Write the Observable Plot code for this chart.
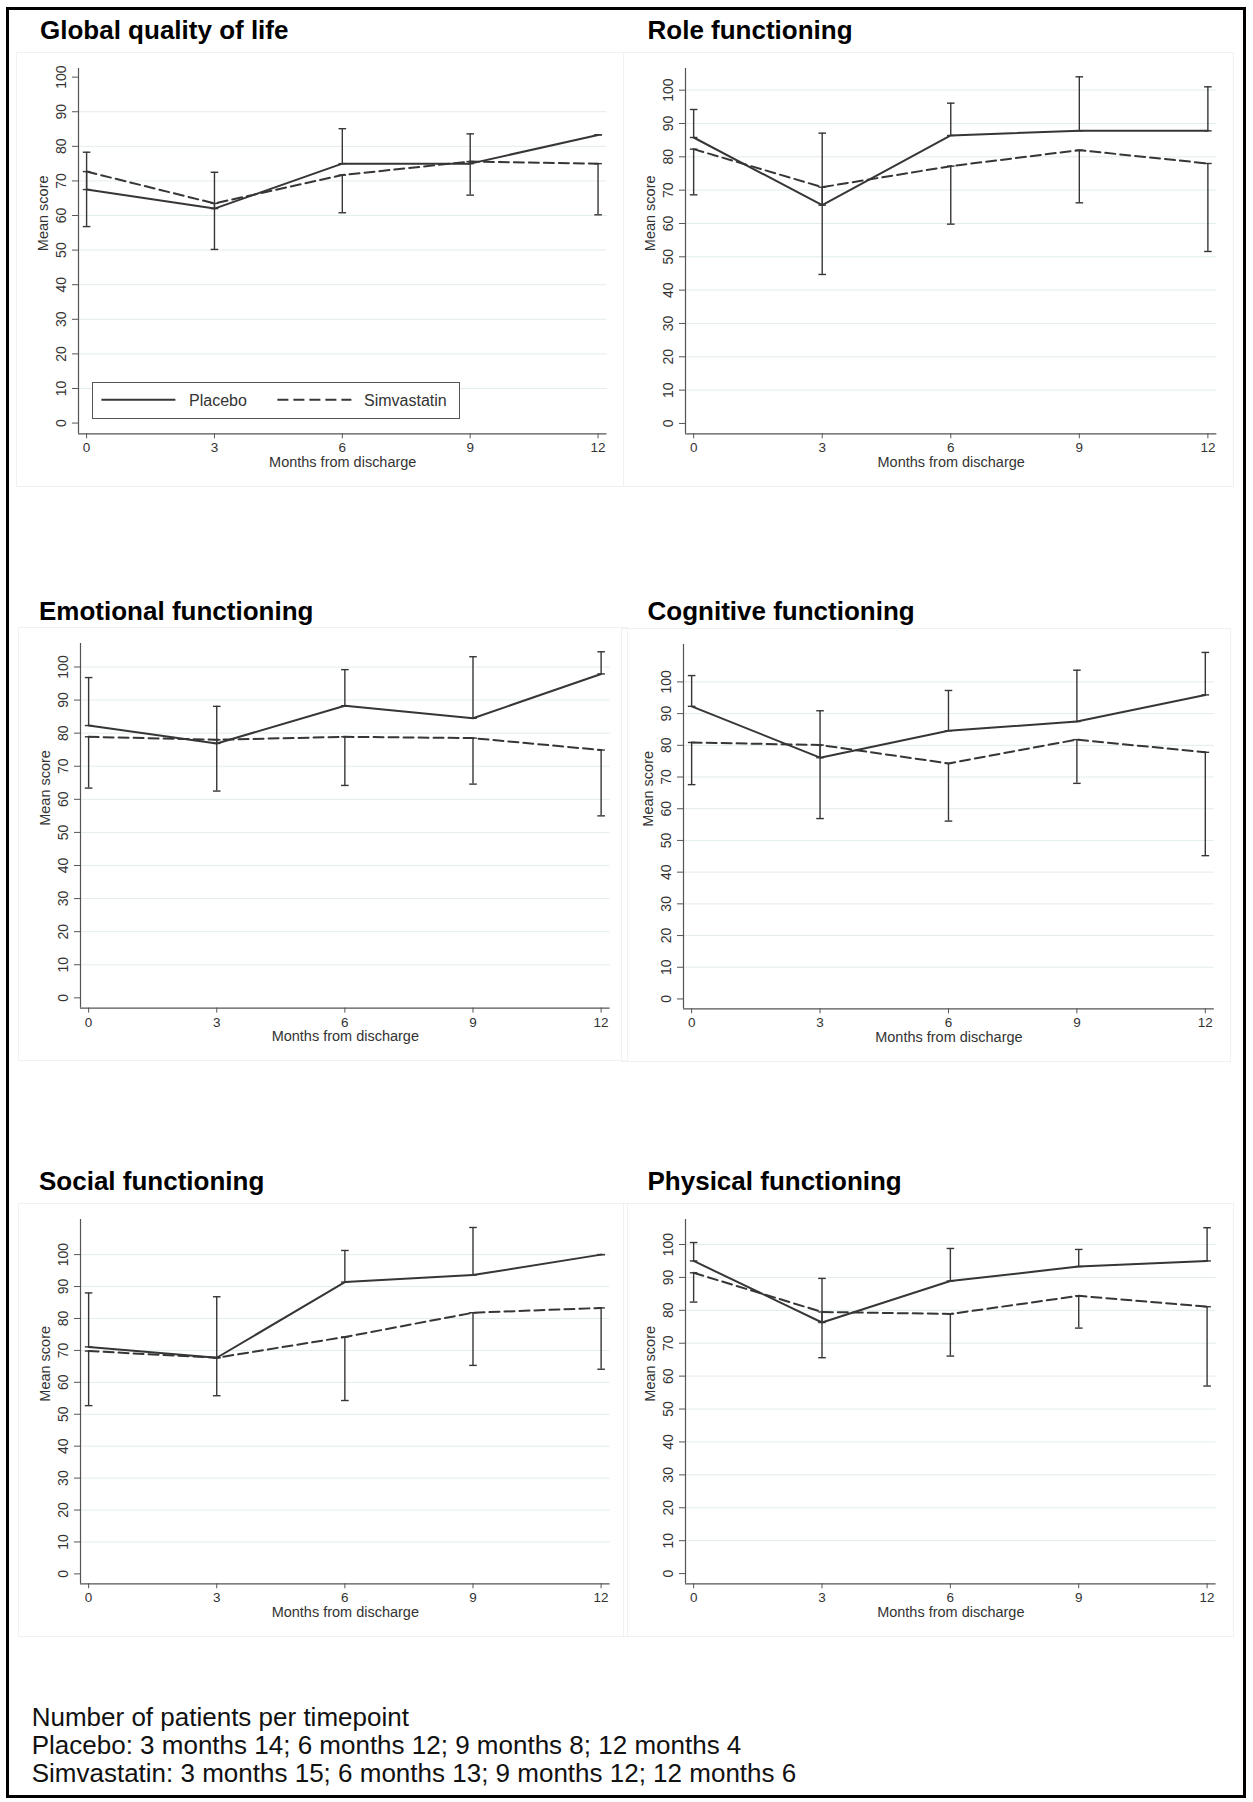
<!DOCTYPE html>
<html>
<head>
<meta charset="utf-8">
<script src="https://cdn.jsdelivr.net/npm/d3@7"></script>
<script src="https://cdn.jsdelivr.net/npm/@observablehq/plot@0.6"></script>
<style>
  body { margin: 0; background: #fff; }
  #page { position: relative; width: 1253px; height: 1802px; overflow: hidden;
          font-family: "Liberation Sans", Arial, Helvetica, sans-serif; background: #fff; }
  .frame { position: absolute; left: 6px; top: 7px; width: 1240px; height: 1791px;
           border: 3px solid #000; box-sizing: border-box; }
  .box { position: absolute; border: 1px solid #f0f2f2; box-sizing: border-box; }
  .title { position: absolute; font-weight: bold; font-size: 26px; line-height: 26px;
           color: #000; white-space: nowrap; }
  .panel { position: absolute; }
  .panel svg { display: block; overflow: visible; }
  #note { position: absolute; left: 31.7px; top: 1703px; font-size: 26px; line-height: 28px;
          color: #111; white-space: nowrap; }
  #legend { position: absolute; left: 92.3px; top: 381.7px; width: 367.7px; height: 37.6px;
            border: 1.5px solid #555; box-sizing: border-box; background: #fff; }
  #legend svg { position: absolute; left: -1.5px; top: -1.5px; overflow: visible; }
</style>
</head>
<body>
<div id="page"><div class="frame"></div></div>
<script>
// EORTC QLQ-C30 domains: mean score by months from discharge, placebo vs simvastatin
const months = [0, 3, 6, 9, 12];
const domains = [
  "Global quality of life", "Role functioning",
  "Emotional functioning", "Cognitive functioning",
  "Social functioning", "Physical functioning"
];
// placebo: mean and upper error-bar end
const placeboMean = [
  [67.5, 62.0, 75.0, 75.0, 83.3],
  [85.8, 65.5, 86.4, 87.8, 87.8],
  [82.3, 76.9, 88.3, 84.5, 97.9],
  [92.3, 76.1, 84.6, 87.5, 95.9],
  [71.1, 67.7, 91.4, 93.6, 100.0],
  [95.0, 76.3, 88.9, 93.3, 95.0]
];
const placeboUpper = [
  [78.3, 72.5, 85.1, 83.6, 83.3],
  [94.2, 87.1, 96.1, 104.0, 101.0],
  [96.8, 88.1, 99.2, 103.1, 104.6],
  [102.0, 90.9, 97.3, 103.7, 109.3],
  [88.0, 86.8, 101.3, 108.5, 100.0],
  [100.6, 89.7, 98.8, 98.5, 105.1]
];
// simvastatin: mean and lower error-bar end
const simvaMean = [
  [72.7, 63.5, 71.7, 75.6, 75.0],
  [82.3, 70.9, 77.2, 82.0, 78.0],
  [78.9, 78.0, 78.9, 78.5, 74.9],
  [80.9, 80.1, 74.3, 81.8, 77.8],
  [69.8, 67.7, 74.2, 81.8, 83.3],
  [91.4, 79.5, 78.9, 84.4, 81.1]
];
const simvaLower = [
  [56.8, 50.2, 60.8, 65.9, 60.2],
  [68.6, 44.7, 59.8, 66.2, 51.6],
  [63.4, 62.5, 64.2, 64.6, 55.0],
  [67.6, 56.9, 56.1, 68.0, 45.2],
  [52.7, 55.8, 54.3, 65.3, 64.1],
  [82.5, 65.6, 66.1, 74.6, 57.0]
];
const yTicks = [0, 10, 20, 30, 40, 50, 60, 70, 80, 90, 100];
const followUp = [3, 6, 9, 12];
const nPlacebo = [14, 12, 8, 4];
const nSimva = [15, 13, 12, 6];

// plot-region placement of each panel on the page
const layout = [
  {left: 77.5, right: 606, top: 68, bottom: 433.3, titleX: 40, titleBase: 39.3},
  {left: 684.6, right: 1216, top: 68, bottom: 433.3, titleX: 647.5, titleBase: 39.3},
  {left: 80.4, right: 610, top: 642.7, bottom: 1007.3, titleX: 39, titleBase: 620},
  {left: 682.6, right: 1213.4, top: 644, bottom: 1008.3, titleX: 647.5, titleBase: 620},
  {left: 80.4, right: 610, top: 1219, bottom: 1583.3, titleX: 39, titleBase: 1190},
  {left: 685.4, right: 1216, top: 1219, bottom: 1583.3, titleX: 647.5, titleBase: 1190}
];

const ink = "#363636";
const axisInk = "#555";
const gridInk = "#e3ecee";
const M = {left: 64, right: 12, top: 14, bottom: 52};
const xLo = -0.19, xHi = 12.21, yLo = -3.1;

// short horizontal stroke used as an error-bar cap
const cap = {
  draw(context, size) {
    const r = Math.sqrt(size / Math.PI);
    context.moveTo(-r, 0);
    context.lineTo(r, 0);
  }
};

const page = document.getElementById("page");

domains.forEach((name, i) => {
  const L = layout[i];
  const placebo = months.map((m, j) => ({month: m, mean: placeboMean[i][j], upper: placeboUpper[i][j]}));
  const simva = months.map((m, j) => ({month: m, mean: simvaMean[i][j], lower: simvaLower[i][j]}));
  const top = Math.max(100, d3.max(placeboUpper[i]));
  const grid = yTicks.filter(t => t > 0 && t < top);

  const plotW = L.right - L.left;
  const plotH = L.bottom - L.top;

  // faint graph-region box
  const box = document.createElement("div");
  box.className = "box";
  box.style.left = (L.left - 62) + "px";
  box.style.top = (L.top - 16) + "px";
  box.style.width = (plotW + 80) + "px";
  box.style.height = (plotH + 70) + "px";
  page.appendChild(box);

  const title = document.createElement("div");
  title.className = "title";
  title.textContent = name;
  title.style.left = L.titleX + "px";
  title.style.top = (L.titleBase - 22) + "px";
  page.appendChild(title);

  const chart = Plot.plot({
    width: M.left + plotW + M.right,
    height: M.top + plotH + M.bottom,
    marginLeft: M.left, marginRight: M.right, marginTop: M.top, marginBottom: M.bottom,
    style: {fontFamily: "'Liberation Sans', Arial, sans-serif", color: "#333", background: "transparent", overflow: "visible"},
    x: {domain: [xLo, xHi]},
    y: {domain: [yLo, top + 2.5]},
    marks: [
      Plot.ruleY(grid, {stroke: gridInk, strokeWidth: 1}),
      Plot.ruleX([xLo], {stroke: axisInk, strokeWidth: 1.2}),
      Plot.ruleY([yLo], {stroke: axisInk, strokeWidth: 1.2}),
      Plot.axisX({ticks: months, tickSize: 5, tickPadding: 4, fontSize: 13.5, label: null, stroke: axisInk}),
      Plot.axisY({ticks: yTicks, tickSize: 6, tickPadding: 7, tickRotate: -90, fontSize: 14, label: null, stroke: axisInk}),
      Plot.text(["Months from discharge"], {text: d => d, frameAnchor: "bottom", dy: 33, fontSize: 14.5, fill: "#333"}),
      Plot.text(["Mean score"], {text: d => d, frameAnchor: "left", dx: -35.5, rotate: -90, fontSize: 14.5, fill: "#333"}),
      // error bars: placebo upward from the mean, simvastatin downward
      Plot.ruleX(placebo, {x: "month", y1: "mean", y2: "upper", stroke: ink, strokeWidth: 1.4}),
      Plot.ruleX(simva, {x: "month", y1: "lower", y2: "mean", stroke: ink, strokeWidth: 1.4}),
      Plot.dot(placebo, {x: "month", y: "upper", symbol: cap, r: 3.8, stroke: ink, strokeWidth: 1.4, fill: "none"}),
      Plot.dot(placebo, {x: "month", y: "mean", symbol: cap, r: 3.8, stroke: ink, strokeWidth: 1.4, fill: "none"}),
      Plot.dot(simva, {x: "month", y: "lower", symbol: cap, r: 3.8, stroke: ink, strokeWidth: 1.4, fill: "none"}),
      Plot.dot(simva, {x: "month", y: "mean", symbol: cap, r: 3.8, stroke: ink, strokeWidth: 1.4, fill: "none"}),
      // mean score lines
      Plot.line(placebo, {x: "month", y: "mean", stroke: ink, strokeWidth: 2}),
      Plot.line(simva, {x: "month", y: "mean", stroke: ink, strokeWidth: 2, strokeDasharray: "10,5"})
    ]
  });

  const holder = document.createElement("div");
  holder.className = "panel";
  holder.style.left = (L.left - M.left) + "px";
  holder.style.top = (L.top - M.top) + "px";
  holder.appendChild(chart);
  page.appendChild(holder);
});

// legend inside the first panel
const legend = document.createElement("div");
legend.id = "legend";
legend.innerHTML = `
<svg width="368" height="38">
  <line x1="9.4" x2="83.4" y1="18.8" y2="18.8" stroke="${ink}" stroke-width="2"/>
  <text x="97" y="25" font-size="16" fill="#333">Placebo</text>
  <line x1="185.4" x2="259.4" y1="18.8" y2="18.8" stroke="${ink}" stroke-width="2" stroke-dasharray="11,5"/>
  <text x="272" y="25" font-size="16" fill="#333">Simvastatin</text>
</svg>`;
page.appendChild(legend);

// patient counts beneath the panels
const counts = (n) => followUp.map((m, j) => `${m} months ${n[j]}`).join("; ");
const note = document.createElement("div");
note.id = "note";
note.innerHTML = `Number of patients per timepoint<br>Placebo: ${counts(nPlacebo)}<br>Simvastatin: ${counts(nSimva)}`;
page.appendChild(note);
</script>
</body>
</html>
